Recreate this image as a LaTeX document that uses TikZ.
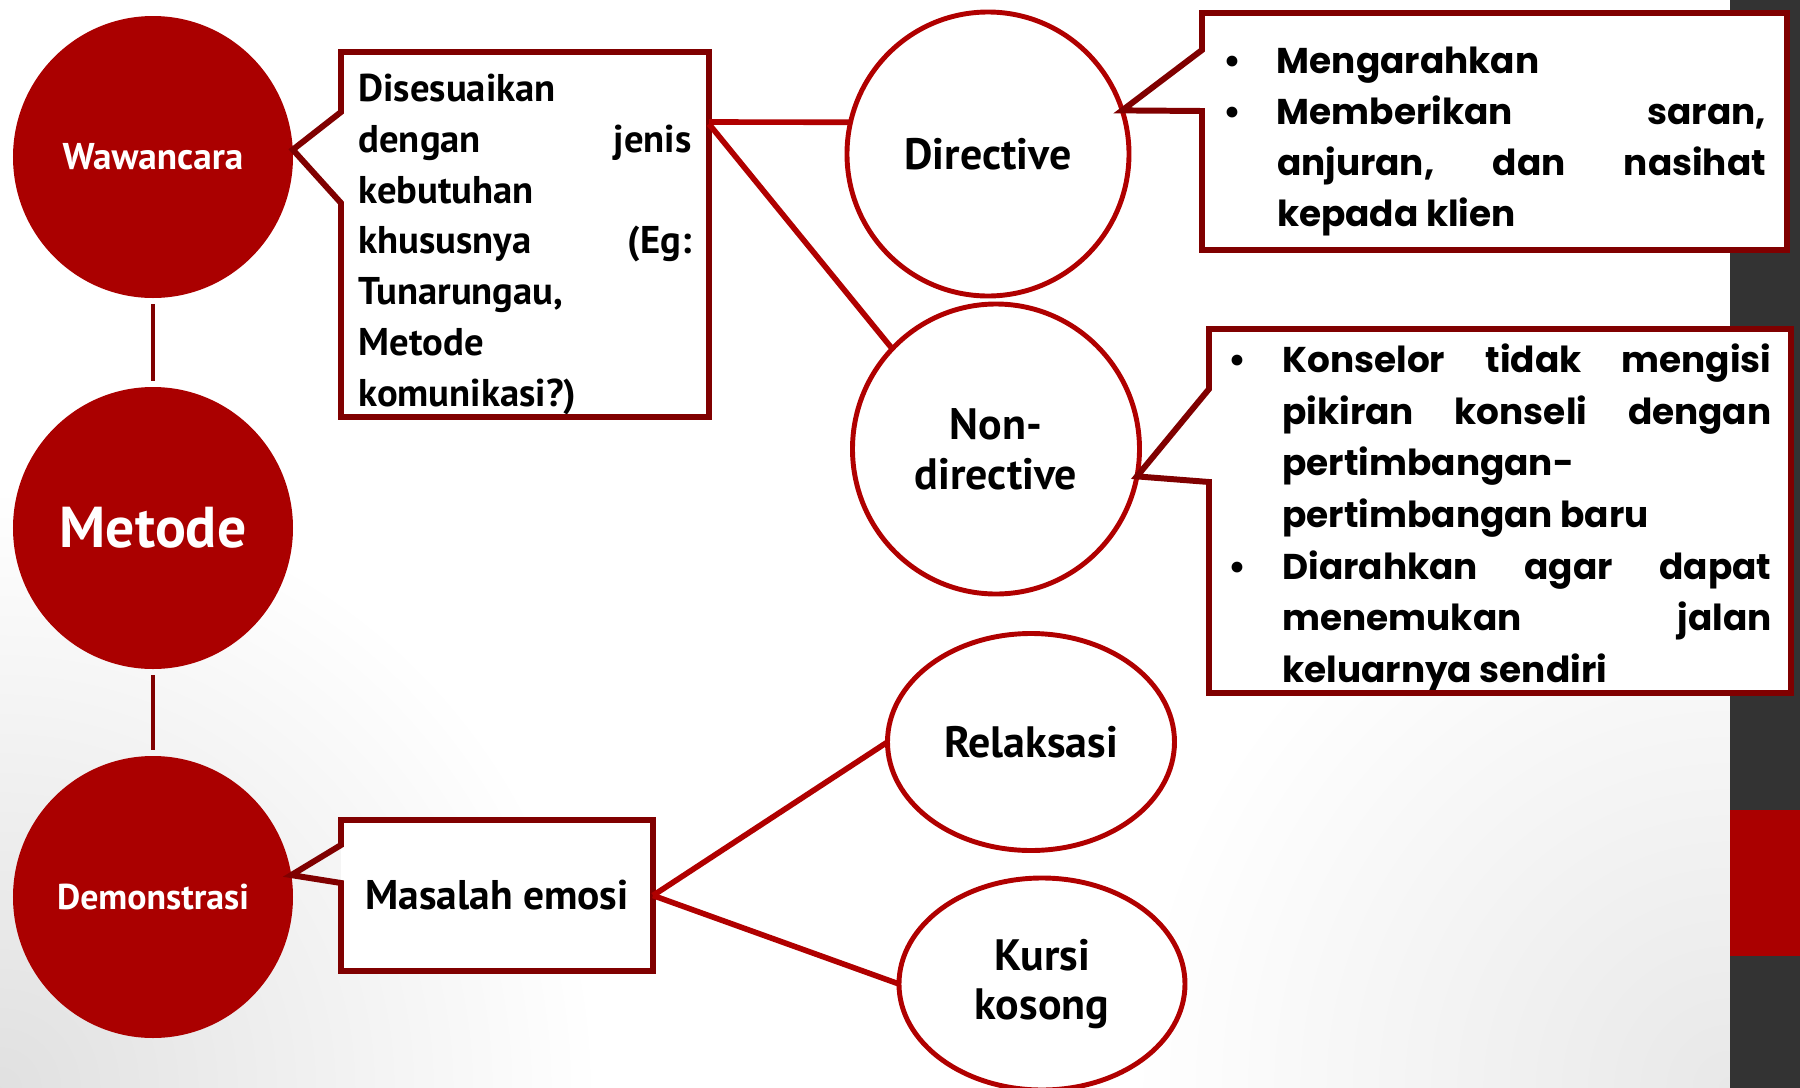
\documentclass[tikz,border=0pt]{standalone}
\usepackage{fontspec}
\setmainfont{PT Sans}
\newfontfamily\listfont{Poppins}
\usetikzlibrary{shapes.geometric}
\definecolor{fillred}{RGB}{170,0,0}
\definecolor{linered}{RGB}{176,0,0}
\definecolor{boxred}{RGB}{128,0,0}
\definecolor{bargrey}{RGB}{51,51,51}
\tikzset{
    mainnode/.style={ellipse, fill=fillred, text=white, inner sep=0pt, outer sep=0pt,
        minimum width=2.8cm, minimum height=2.82cm},
    subnode/.style={ellipse, draw=linered, line width=1.4pt, fill=white, inner sep=0pt,
        outer sep=0pt, align=center, font=\bfseries\fontsize{12.5}{14.2}\selectfont},
    infobox/.style={rectangle, fill=white, inner sep=0pt, outer sep=0pt},
    boxline/.style={draw=boxred, line width=1.7pt},
    link/.style={draw=linered, line width=1.6pt},
    stem/.style={draw=boxred, line width=1.4pt, shorten >=0.06cm, shorten <=0.06cm},
}

\begin{document}
\begin{tikzpicture}
        \useasboundingbox (0,0) rectangle (18,-10.88);
        % background and side bar
        \begin{scope}
            \clip (0,0) rectangle (17.3,-10.88);
            \shade[inner color=black!12, outer color=white] (0,-10.88) circle (6);
            \shade[inner color=black!9, outer color=white] (17.3,-10.88) circle (6);
        \end{scope}
        \fill[bargrey] (17.3,0) rectangle (18,-10.88);
        \fill[fillred] (17.3,-8.1) rectangle (18,-9.56);

        % left column
        \node[mainnode, font=\bfseries\fontsize{10.6}{12}\selectfont] (waw) at (1.53,-1.57) {Wawancara};
        \node[mainnode, font=\bfseries\fontsize{16.4}{19}\selectfont] (metode) at (1.53,-5.28) {Metode};
        \node[mainnode, font=\bfseries\fontsize{10.2}{12}\selectfont] (demo) at (1.53,-8.97) {Demonstrasi};
        \draw[stem] (waw) -- (metode);
        \draw[stem] (metode) -- (demo);

        % circles on the right
        \node[subnode, minimum width=2.82cm, minimum height=2.84cm] (dir) at (9.88,-1.54) {Directive};
        \node[subnode, minimum width=2.87cm, minimum height=2.9cm] (nondir) at (9.96,-4.49) {Non-\\directive};
        \node[subnode, minimum width=2.87cm, minimum height=2.17cm] (relax) at (10.31,-7.42) {Relaksasi};
        \node[subnode, minimum width=2.86cm, minimum height=2.12cm] (kursi) at (10.42,-9.84) {Kursi\\kosong};

        % boxes
        \node[infobox, minimum width=3.68cm, minimum height=3.65cm, text width=3.33cm, align=left,
            font=\bfseries\fontsize{11}{14.45}\selectfont] (desc) at (5.25,-2.345)
            {\raisebox{-0.1cm}[\height][\depth]{\parbox{3.33cm}{Disesuaikan\\ dengan \hfill jenis\\ kebutuhan\\ khususnya \hfill (Eg:\\ Tunarungau,\\ Metode\\ komunikasi?)}}};
        \node[infobox, minimum width=3.12cm, minimum height=1.51cm,
            font=\bfseries\fontsize{11.8}{13}\selectfont] (masalah) at (4.97,-8.955) {Masalah emosi};
        \node[infobox, minimum width=5.85cm, minimum height=2.37cm,
            font=\listfont\bfseries\fontsize{10.2}{14.5}\selectfont] (dirbox) at (14.945,-1.315)
            {\raisebox{-0.08cm}[\height][\depth]{\begin{tabular}{@{}p{0.54cm}@{}p{4.89cm}@{}}
                \textbullet & Mengarahkan\\
                \textbullet & Memberikan \hfill saran,\\
                & anjuran, \hfill dan \hfill nasihat\\
                & kepada klien
            \end{tabular}}};
        \node[infobox, minimum width=5.82cm, minimum height=3.64cm,
            font=\listfont\bfseries\fontsize{10.2}{14.7}\selectfont] (nondirbox) at (15,-5.11)
            {\raisebox{-0.06cm}[\height][\depth]{\begin{tabular}{@{}p{0.54cm}@{}p{4.89cm}@{}}
                \textbullet & Konselor \hfill tidak \hfill mengisi\\
                & pikiran \hfill konseli \hfill dengan\\
                & pertimbangan-\\
                & pertimbangan baru\\
                \textbullet & Diarahkan \hfill agar \hfill dapat\\
                & menemukan \hfill jalan\\
                & keluarnya sendiri
            \end{tabular}}};

        % callout outlines
        \draw[boxline] ([yshift=-0.6cm]desc.north west) -- (desc.north west) -- (desc.north east)
            -- (desc.south east) -- (desc.south west) -- ([yshift=-1.51cm]desc.north west) -- (waw.3) -- cycle;
        \draw[boxline] ([yshift=-0.25cm]masalah.north west) -- (masalah.north west) -- (masalah.north east)
            -- (masalah.south east) -- (masalah.south west) -- ([yshift=-0.63cm]masalah.north west) -- (demo.9) -- cycle;
        \draw[boxline] ([yshift=-0.37cm]dirbox.north west) -- (dirbox.north west) -- (dirbox.north east)
            -- (dirbox.south east) -- (dirbox.south west) -- ([yshift=-0.98cm]dirbox.north west) -- (dir.18) -- cycle;
        \draw[boxline] ([yshift=-0.6cm]nondirbox.north west) -- (nondirbox.north west) -- (nondirbox.north east)
            -- (nondirbox.south east) -- (nondirbox.south west) -- ([yshift=-1.53cm]nondirbox.north west) -- (nondir.349) -- cycle;

        % connectors
        \draw[link] ([yshift=-0.7cm]desc.north east) -- (dir.167);
        \draw[link] ([yshift=-0.72cm]desc.north east) -- (nondir.136);
        \draw[link] (masalah.east) -- (relax.west);
        \draw[link] (masalah.east) -- (kursi.west);
    \end{tikzpicture}
\end{document}
